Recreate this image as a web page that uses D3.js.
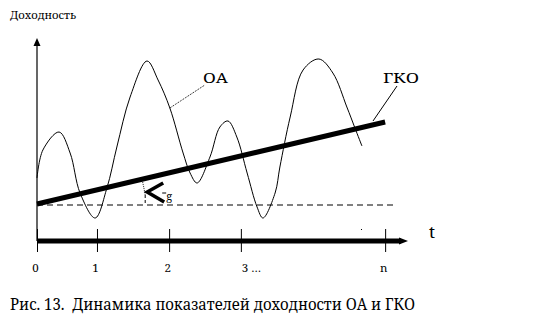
<!DOCTYPE html>
<html>
<head>
<meta charset="utf-8">
<script src="https://cdn.jsdelivr.net/npm/d3@7"></script>
<style>
  html, body { margin: 0; padding: 0; background: #fff; }
  svg { display: block; }
</style>
</head>
<body>
<svg id="chart" width="554" height="326"></svg>
<script>
// time axis: irregular schematic ticks
const tickValues = [0, 1.63, 3.59, 5.54, 9.46];
const tickLabels = ['0', '1', '2', '3 …', 'n'];

// ОА yield curve (t, yield)
const oaT = [0, 0.16, 0.6, 0.9, 1.17, 1.58, 1.9, 2.17, 2.53, 2.99, 3.29, 3.61, 3.97, 4.16, 4.35,
  4.7, 4.97, 5.19, 5.43, 5.71, 5.98, 6.14, 6.47, 6.6, 6.88, 7.23, 7.66, 8.04, 8.42, 8.64, 8.83];
const oaY = [3.15, 4.55, 5.45, 4.4, 2.4, 1.15, 2.65, 4.7, 7.2, 9.0, 8.05, 6.65, 4.4, 3.4, 2.9,
  4.2, 5.7, 6.0, 5.2, 3.4, 1.7, 1.15, 2.4, 3.7, 6.2, 8.55, 9.1, 8.4, 6.7, 5.65, 4.75];

// ГКО yield (straight trend)
const gkoT = [0, 9.46];
const gkoY = [1.85, 5.95];

const baseLevel = 1.8; // dashed level line
const baseEnd = 9.78;

const FONT = "'Noto Serif', 'DejaVu Serif', serif";

const svg = d3.select('#chart');

const x = d3.scaleLinear().domain([0, 10]).range([37, 405]);
const y = d3.scaleLinear().domain([0, 10]).range([241, 41]);

function label(px, py, size, str) {
  return svg.append('text')
    .attr('x', px).attr('y', py)
    .style('font-family', FONT)
    .style('font-size', size + 'px')
    .attr('fill', '#000')
    .text(str);
}

// y axis with arrow
svg.append('line')
  .attr('x1', x(0)).attr('x2', x(0))
  .attr('y1', y(0)).attr('y2', y(10) + 3)
  .attr('stroke', '#000').attr('stroke-width', 1.2);
svg.append('path')
  .attr('d', `M${x(0)},${y(10) - 3} L${x(0) - 3.5},${y(10) + 5} L${x(0) + 3.5},${y(10) + 5} Z`)
  .attr('fill', '#000');

label(10, 19, 11.5, 'Доходность').attr('textLength', 66).attr('lengthAdjust', 'spacingAndGlyphs');

// dashed level
svg.append('line')
  .attr('x1', x(0)).attr('x2', x(baseEnd))
  .attr('y1', y(baseLevel)).attr('y2', y(baseLevel))
  .attr('stroke', '#000').attr('stroke-width', 1)
  .attr('stroke-dasharray', '6,4');

// x axis ticks + labels
const gx = svg.append('g').attr('transform', `translate(0,${y(0)})`)
  .call(d3.axisBottom(x).tickValues(tickValues).tickSize(11)
    .tickFormat((d, i) => tickLabels[i]));
gx.select('.domain').remove();
gx.selectAll('.tick line').attr('y1', -12).attr('stroke', '#000');
gx.selectAll('.tick text')
  .attr('y', 31).attr('dy', 0)
  .style('font-family', FONT)
  .style('font-size', '11.5px')
  .attr('fill', '#000')
  .attr('dx', (d, i) => tickLabels[i].length > 1 ? 10 : -2);

// thick time axis with arrow
svg.append('line')
  .attr('x1', x(0)).attr('x2', x(10) - 4)
  .attr('y1', y(0)).attr('y2', y(0))
  .attr('stroke', '#000').attr('stroke-width', 5);
svg.append('path')
  .attr('d', `M${x(10) + 3},${y(0)} L${x(10) - 6},${y(0) - 3.5} L${x(10) - 6},${y(0) + 3.5} Z`)
  .attr('fill', '#000');
svg.append('rect')
  .attr('x', 361).attr('y', 229).attr('width', 1).attr('height', 1)
  .attr('fill', '#000');

label(432, 238, 17, 't').attr('text-anchor', 'middle');

// ОА curve
const oa = oaT.map((t, i) => [t, oaY[i]]);
svg.append('path')
  .datum(oa)
  .attr('d', d3.line().x(d => x(d[0])).y(d => y(d[1])).curve(d3.curveCatmullRom.alpha(0.5)))
  .attr('fill', 'none').attr('stroke', '#000').attr('stroke-width', 1);

// ГКО line
const gko = gkoT.map((t, i) => [t, gkoY[i]]);
svg.append('path')
  .datum(gko)
  .attr('d', d3.line().x(d => x(d[0])).y(d => y(d[1])))
  .attr('fill', 'none').attr('stroke', '#000').attr('stroke-width', 5);

// angle g marker
const ax = x(2.94);
svg.append('path')
  .attr('d', `M${ax - 3},${y(3.05)} Q${ax - 1},${y(2.6)} ${ax},${y(2.3)}`)
  .attr('fill', 'none').attr('stroke', '#000').attr('stroke-width', 1)
  .attr('stroke-dasharray', '1,1');
svg.append('line')
  .attr('x1', ax).attr('x2', ax)
  .attr('y1', y(2.3)).attr('y2', y(baseLevel))
  .attr('stroke', '#000').attr('stroke-width', 1)
  .attr('stroke-dasharray', '3,2');
svg.append('path')
  .attr('d', `M${ax + 18},${y(2.9)} L${ax + 2},${y(2.45)} L${ax + 19},${y(1.95)}`)
  .attr('fill', 'none').attr('stroke', '#000').attr('stroke-width', 3.5);
svg.append('line')
  .attr('x1', ax + 17).attr('x2', ax + 21)
  .attr('y1', y(2.4)).attr('y2', y(2.4))
  .attr('stroke', '#000').attr('stroke-width', 1);
label(ax + 21, y(2.05), 11, 'g');

// leaders and labels
svg.append('line')
  .attr('x1', x(3.61)).attr('y1', y(6.65))
  .attr('x2', x(3.61) + 35).attr('y2', y(6.65) - 23)
  .attr('stroke', '#000').attr('stroke-width', 1)
  .attr('stroke-dasharray', '1,1');
label(203, 83, 15, 'ОА').attr('textLength', 25).attr('lengthAdjust', 'spacingAndGlyphs');

svg.append('line')
  .attr('x1', 373).attr('y1', 121)
  .attr('x2', 397).attr('y2', 86)
  .attr('stroke', '#000').attr('stroke-width', 1);
label(383, 83, 15, 'ГКО').attr('textLength', 36).attr('lengthAdjust', 'spacingAndGlyphs');

// caption
label(10, 310, 16.5, 'Рис. 13.  Динамика показателей доходности ОА и ГКО')
  .attr('xml:space', 'preserve')
  .style('white-space', 'pre')
  .attr('textLength', 405).attr('lengthAdjust', 'spacingAndGlyphs');
</script>
</body>
</html>
